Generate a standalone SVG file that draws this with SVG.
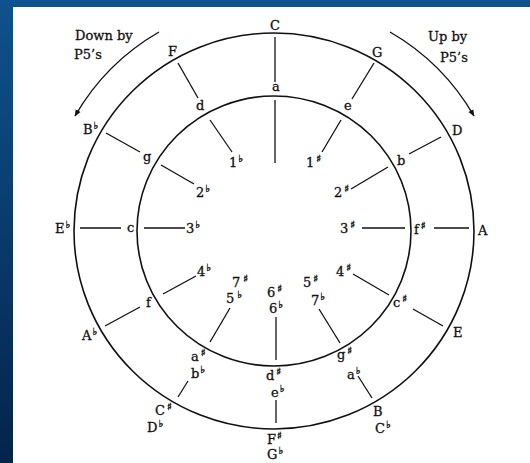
<svg xmlns="http://www.w3.org/2000/svg" width="530" height="463" viewBox="0 0 530 463">
<defs>
<linearGradient id="bg" x1="0" y1="0" x2="0" y2="1">
<stop offset="0" stop-color="#0e528e"/>
<stop offset="1" stop-color="#04244a"/>
</linearGradient>
<marker id="ah" viewBox="0 0 10 10" refX="9" refY="5" markerWidth="7" markerHeight="7" orient="auto" markerUnits="userSpaceOnUse">
<path d="M0,1 L10,5 L0,9 Z" fill="#111"/>
</marker>
<style>
text{font-family:"DejaVu Serif","Liberation Serif",serif;font-size:13px;fill:#111;stroke:#111;stroke-width:0.3}
.acc{font-size:10px;stroke-width:0.4}
.ring{fill:none;stroke:#111;stroke-width:1.6}
.sp line{stroke:#111;stroke-width:1.3}
.arc{fill:none;stroke:#111;stroke-width:1.4}
</style>
</defs>
<rect x="0" y="0" width="530" height="463" fill="url(#bg)"/>
<rect x="13" y="7" width="517" height="456" fill="#ffffff"/>

<g id="outer-circle"><ellipse class="ring" cx="274" cy="231" rx="200" ry="198"/></g>
<g id="inner-circle"><ellipse class="ring" cx="274" cy="231" rx="137" ry="135"/></g>

<g id="arrow-down">
<path class="arc" d="M159,32 A230,230 0 0 0 75,116" marker-end="url(#ah)"/>
<text x="75" y="40">Down by</text>
<text x="74" y="59">P5’s</text>
</g>
<g id="arrow-up">
<path class="arc" d="M390,32 A230,230 0 0 1 474,116" marker-end="url(#ah)"/>
<text x="428" y="41">Up by</text>
<text x="440" y="62">P5’s</text>
</g>

<g id="connectors" class="sp">
<line x1="275" y1="37" x2="275" y2="82"/>
<line x1="275" y1="100" x2="275" y2="163"/>
<line x1="178" y1="63" x2="198" y2="98"/>
<line x1="210" y1="120" x2="232" y2="152"/>
<line x1="374" y1="63" x2="352" y2="99"/>
<line x1="341" y1="120" x2="322" y2="152"/>
<line x1="106" y1="133" x2="140" y2="152"/>
<line x1="161" y1="165" x2="194" y2="184"/>
<line x1="441" y1="137" x2="409" y2="154"/>
<line x1="388" y1="167" x2="351" y2="189"/>
<line x1="80" y1="228" x2="121" y2="228"/>
<line x1="144" y1="228" x2="185" y2="228"/>
<line x1="434" y1="228" x2="469" y2="228"/>
<line x1="362" y1="228" x2="405" y2="228"/>
<line x1="105" y1="326" x2="140" y2="307"/>
<line x1="163" y1="294" x2="196" y2="276"/>
<line x1="413" y1="309" x2="443" y2="326"/>
<line x1="353" y1="274" x2="389" y2="295"/>
<line x1="230" y1="308" x2="210" y2="342"/>
<line x1="319" y1="309" x2="340" y2="343"/>
<line x1="276" y1="317" x2="276" y2="360"/>
<line x1="276" y1="400" x2="276" y2="423"/>
<line x1="358" y1="376" x2="372" y2="398"/>
<line x1="188" y1="381" x2="178" y2="397"/>
</g>

<g id="major-keys">
<g id="key-C"><text x="275" y="30" text-anchor="middle">C</text></g>
<g id="key-G"><text x="372" y="57">G</text></g>
<g id="key-D"><text x="452" y="135">D</text></g>
<g id="key-A"><text x="478" y="235">A</text></g>
<g id="key-E"><text x="453" y="337">E</text></g>
<g id="key-B"><text x="373" y="416">B</text><text x="375" y="433">C<tspan class="acc" dx="1" dy="-5">♭</tspan></text></g>
<g id="key-Fs"><text x="267" y="444">F<tspan class="acc" dx="1" dy="-5">♯</tspan></text><text x="267" y="459">G<tspan class="acc" dx="1" dy="-5">♭</tspan></text></g>
<g id="key-Cs"><text x="155" y="415">C<tspan class="acc" dx="2" dy="-5">♯</tspan></text><text x="147" y="432">D<tspan class="acc" dx="1" dy="-5">♭</tspan></text></g>
<g id="key-Ab"><text x="82" y="340">A<tspan class="acc" dx="1" dy="-5">♭</tspan></text></g>
<g id="key-Eb"><text x="55" y="233">E<tspan class="acc" dx="1" dy="-5">♭</tspan></text></g>
<g id="key-Bb"><text x="83" y="134">B<tspan class="acc" dx="1" dy="-5">♭</tspan></text></g>
<g id="key-F"><text x="168" y="56">F</text></g>
</g>

<g id="minor-keys">
<g id="key-a"><text x="272" y="91">a</text></g>
<g id="key-e"><text x="344" y="110">e</text></g>
<g id="key-b"><text x="397" y="165">b</text></g>
<g id="key-fs"><text x="414" y="234">f<tspan class="acc" dx="2" dy="-5">♯</tspan></text></g>
<g id="key-cs"><text x="393" y="307">c<tspan class="acc" dx="2" dy="-5">♯</tspan></text></g>
<g id="key-gs"><text x="337" y="359">g<tspan class="acc" dx="2" dy="-5">♯</tspan></text></g>
<g id="key-ds"><text x="266" y="380">d<tspan class="acc" dx="2" dy="-5">♯</tspan></text><text x="271" y="397">e<tspan class="acc" dx="1" dy="-5">♭</tspan></text></g>
<g id="key-as"><text x="191" y="361">a<tspan class="acc" dx="2" dy="-5">♯</tspan></text><text x="191" y="378">b<tspan class="acc" dx="1" dy="-5">♭</tspan></text></g>
<g id="key-ab"><text x="347" y="379">a<tspan class="acc" dx="1" dy="-5">♭</tspan></text></g>
<g id="key-f"><text x="146" y="307">f</text></g>
<g id="key-c"><text x="127" y="232">c</text></g>
<g id="key-g"><text x="143" y="161">g</text></g>
<g id="key-d"><text x="196" y="110">d</text></g>
</g>

<g id="degrees">
<g id="deg-1b"><text x="229" y="167">1<tspan class="acc" dx="1" dy="-5">♭</tspan></text></g>
<g id="deg-2b"><text x="196" y="197">2<tspan class="acc" dx="1" dy="-5">♭</tspan></text></g>
<g id="deg-3b"><text x="186" y="233">3<tspan class="acc" dx="1" dy="-5">♭</tspan></text></g>
<g id="deg-1s"><text x="306" y="167">1<tspan class="acc" dx="2" dy="-5">♯</tspan></text></g>
<g id="deg-2s"><text x="334" y="197">2<tspan class="acc" dx="2" dy="-5">♯</tspan></text></g>
<g id="deg-3s"><text x="340" y="233">3<tspan class="acc" dx="2" dy="-5">♯</tspan></text></g>
<g id="deg-4b"><text x="197" y="276">4<tspan class="acc" dx="1" dy="-5">♭</tspan></text></g>
<g id="deg-7s5b"><text x="232" y="287">7<tspan class="acc" dx="3" dy="-5">♯</tspan></text><text x="226" y="303">5<tspan class="acc" dx="3" dy="-5">♭</tspan></text></g>
<g id="deg-4s"><text x="336" y="276">4<tspan class="acc" dx="2" dy="-5">♯</tspan></text></g>
<g id="deg-5s7b"><text x="303" y="287">5<tspan class="acc" dx="2" dy="-5">♯</tspan></text><text x="311" y="305">7<tspan class="acc" dx="1" dy="-5">♭</tspan></text></g>
<g id="deg-6s6b"><text x="267" y="297">6<tspan class="acc" dx="2" dy="-5">♯</tspan></text><text x="269" y="313">6<tspan class="acc" dx="1" dy="-5">♭</tspan></text></g>
</g>
</svg>
